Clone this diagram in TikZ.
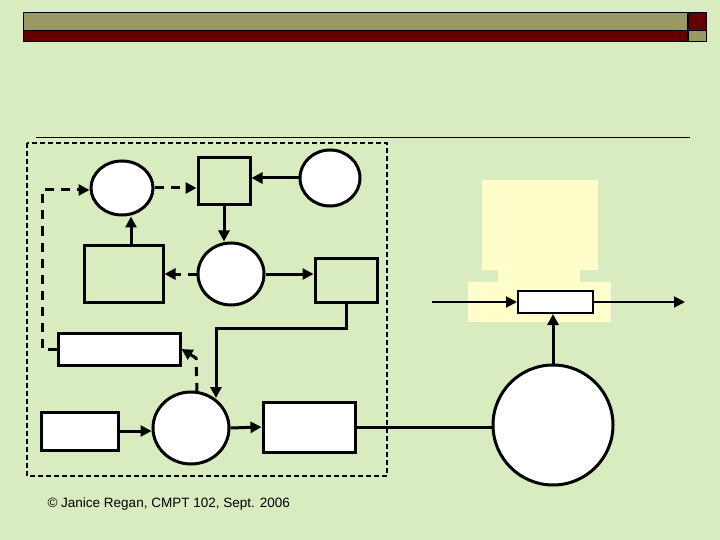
\documentclass[tikz,border=0pt]{standalone}
\usepackage{fontspec}
\setmainfont{Liberation Sans}
\usetikzlibrary{arrows.meta,shapes.geometric}
\definecolor{bg}{HTML}{D8ECC0}
\definecolor{olive}{HTML}{999966}
\definecolor{dred}{HTML}{660000}
\definecolor{ylw}{HTML}{FFFFCC}
\begin{document}
\begin{tikzpicture}[x=1pt,y=-1pt,
  box/.style={draw,line width=3pt},
  ell/.style={draw,line width=3pt,fill=white},
  con/.style={line width=3pt,-{Triangle[length=11pt,width=11pt]}},
  dcon/.style={con,dash pattern=on 9pt off 7pt}]
\fill[bg] (0,0) rectangle (720,540);
\useasboundingbox (0,0) rectangle (720,540);
\draw[fill=olive] (23,12) rectangle (687,30);
\draw[fill=dred] (23,30) rectangle (687,41);
\draw[fill=dred] (688,12) rectangle (706,30);
\draw[fill=olive] (688,30) rectangle (706,41);
\draw[line width=0.8pt] (36,137) -- (690,137);
\draw[dash pattern=on 5pt off 3pt,line width=1.8pt] (27,143) rectangle (387,476);
% yellow
\fill[ylw] (482,180) rectangle (598,270);
\fill[ylw] (498,268) rectangle (580,284);
\fill[ylw] (468,282) rectangle (611,322);
% nodes
\node[ell,ellipse,minimum width=62,minimum height=54] (e1) at (122,188) {};
\node[ell,ellipse,minimum width=60,minimum height=56] (e2) at (330,178) {};
\node[ell,ellipse,minimum width=66,minimum height=62] (e3) at (231,274) {};
\node[ell,ellipse,minimum width=76,minimum height=72] (e4) at (191,428) {};
\node[ell,circle,minimum size=120] (c) at (553,425) {};
\node[box,fill=bg,minimum width=52,minimum height=47] (sq) at (224,181.5) {};
\node[box,fill=bg,minimum width=79,minimum height=57] (lr) at (123.5,273.5) {};
\node[box,fill=bg,minimum width=62,minimum height=44] (rb) at (346,280) {};
\node[box,fill=white,minimum width=122,minimum height=32] (wr) at (119,349) {};
\node[box,fill=white,minimum width=77,minimum height=38] (bl) at (79.5,431) {};
\node[box,fill=white,minimum width=92,minimum height=50] (bb) at (309,427) {};
\node[draw,line width=2pt,fill=white,minimum width=75,minimum height=22] (sr) at (555.5,302) {};
\coordinate (in) at (432,302);
\coordinate (out) at (685,302);
% connectors
\draw[dcon] (wr.west) -- (42,349) -- (42,190) -- (e1.west|-0,190);
\draw[dcon] (e1.east) -- (sq.west|-e1.east);
\draw[con] (e2.west) -- (sq.east|-e2.west);
\draw[con] (sq.south) -- (e3.north-|sq.south);
\draw[con] (lr.north-|131,0) -- (e1.south-|131,0);
\draw[dcon] (e3.west) -- (lr.east|-e3.west);
\draw[con] (e3.east) -- (rb.west|-e3.east);
\draw[con] (rb.south) -- (346,328) -- (216,328) -- (216,398);
\draw[dcon] (197,392) -- (196,358) -- (wr.east);
\draw[con] (bl.east) -- (e4.west|-bl.east);
\draw[con] (e4.east) -- (bb.west);
\draw[line width=3pt] (bb.east) -- (c.west|-bb.east);
\draw[con,line width=2pt] (in) -- (sr.west);
\draw[con,line width=2pt] (sr.east) -- (out);
\draw[con] (c.north) -- (sr.south-|c.north);
\node[anchor=west,font=\fontsize{13.5}{16}\selectfont] (ft) at (44,504) {© Janice Regan, CMPT 102, Sept. 2006};
\end{tikzpicture}
\end{document}
